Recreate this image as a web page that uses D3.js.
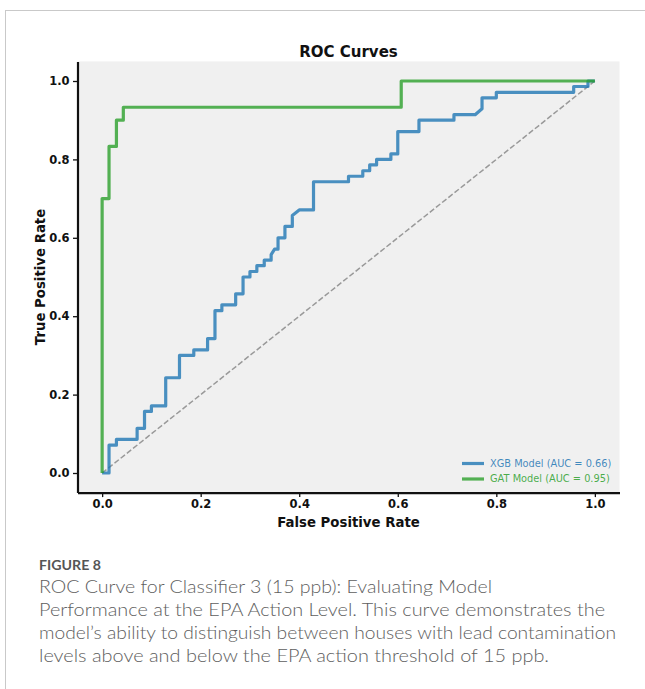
<!DOCTYPE html>
<html>
<head>
<meta charset="utf-8">
<script src="https://cdn.jsdelivr.net/npm/d3@7"></script>
<style>
  body { margin: 0; background: #fff; }
  svg { display: block; }
</style>
</head>
<body>
<div id="container"></div>
<script>
// ROC points (false positive rate / true positive rate)
const xgbFpr = [0, 0.014, 0.014, 0.029, 0.029, 0.071, 0.071, 0.086, 0.086, 0.100, 0.100, 0.129, 0.129, 0.157, 0.157,
    0.186, 0.186, 0.214, 0.214, 0.229, 0.229, 0.243, 0.243, 0.271, 0.271, 0.286, 0.286, 0.300, 0.300, 0.314, 0.314,
    0.329, 0.329, 0.343, 0.343, 0.350, 0.357, 0.357, 0.371, 0.371, 0.386, 0.386, 0.400, 0.429, 0.429, 0.500, 0.500,
    0.529, 0.529, 0.543, 0.543, 0.557, 0.557, 0.586, 0.586, 0.600, 0.600, 0.643, 0.643, 0.714, 0.714, 0.757, 0.771,
    0.771, 0.800, 0.800, 0.957, 0.957, 0.986, 0.986, 1.0];
const xgbTpr = [0, 0, 0.071, 0.071, 0.086, 0.086, 0.114, 0.114, 0.157, 0.157, 0.171, 0.171, 0.243, 0.243, 0.300,
    0.300, 0.314, 0.314, 0.343, 0.343, 0.414, 0.414, 0.429, 0.429, 0.457, 0.457, 0.500, 0.500, 0.514, 0.514, 0.529,
    0.529, 0.543, 0.543, 0.557, 0.571, 0.571, 0.600, 0.600, 0.629, 0.629, 0.657, 0.671, 0.671, 0.743, 0.743, 0.757,
    0.757, 0.771, 0.771, 0.786, 0.786, 0.800, 0.800, 0.814, 0.814, 0.871, 0.871, 0.900, 0.900, 0.914, 0.914, 0.929,
    0.957, 0.957, 0.971, 0.971, 0.986, 0.986, 1.0, 1.0];
const gatFpr = [0, 0, 0.014, 0.014, 0.029, 0.029, 0.043, 0.043, 0.607, 0.607, 1.0];
const gatTpr = [0, 0.700, 0.700, 0.833, 0.833, 0.900, 0.900, 0.933, 0.933, 1.0, 1.0];
const chanceLine = [0, 1];

const xTicks = [0, 0.2, 0.4, 0.6, 0.8, 1.0];
const yTicks = [0, 0.2, 0.4, 0.6, 0.8, 1.0];
const seriesNames = ['XGB Model (AUC = 0.66)', 'GAT Model (AUC = 0.95)'];
const seriesColors = ['#1f77b4', '#2ca02c'];

const chartTitle = 'ROC Curves';
const xLabel = 'False Positive Rate';
const yLabel = 'True Positive Rate';
const figureLabel = 'FIGURE 8';
const captionLines = [
    'ROC Curve for Classifier 3 (15 ppb): Evaluating Model',
    'Performance at the EPA Action Level. This curve demonstrates the',
    'model\u2019s ability to distinguish between houses with lead contamination',
    'levels above and below the EPA action threshold of 15 ppb.'
];

const width = 645;
const height = 689;
const plot = { left: 77.5, right: 619.5, top: 61.4, bottom: 492.6 };
const chartFont = '"DejaVu Sans", sans-serif';

const svg = d3.select('#container').append('svg')
    .attr('width', width)
    .attr('height', height);

// page frame (thin gray rules top and left)
svg.append('line')
    .attr('x1', 5).attr('x2', width).attr('y1', 10.5).attr('y2', 10.5)
    .attr('stroke', '#c9c9c9').attr('stroke-width', 1);
svg.append('line')
    .attr('x1', 5.5).attr('x2', 5.5).attr('y1', 10).attr('y2', height)
    .attr('stroke', '#c9c9c9').attr('stroke-width', 1);

const x = d3.scaleLinear().domain([-0.05, 1.05]).range([plot.left, plot.right]);
const y = d3.scaleLinear().domain([-0.05, 1.05]).range([plot.bottom, plot.top]);

// plot background
svg.append('rect')
    .attr('x', plot.left).attr('y', plot.top)
    .attr('width', plot.right - plot.left).attr('height', plot.bottom - plot.top)
    .attr('fill', '#f0f0f0');

const line = d3.line().x(d => x(d[0])).y(d => y(d[1]));

// chance diagonal
svg.append('path')
    .attr('d', line(chanceLine.map(v => [v, v])))
    .attr('fill', 'none')
    .attr('stroke', '#999')
    .attr('stroke-width', 1.5)
    .attr('stroke-dasharray', '5.5,2.4');

const series = [
    { name: seriesNames[0], color: seriesColors[0], pts: d3.zip(xgbFpr, xgbTpr) },
    { name: seriesNames[1], color: seriesColors[1], pts: d3.zip(gatFpr, gatTpr) }
];

svg.append('g')
    .selectAll('path')
    .data(series)
    .enter().append('path')
    .attr('d', d => line(d.pts))
    .attr('fill', 'none')
    .attr('stroke', d => d.color)
    .attr('stroke-opacity', 0.8)
    .attr('stroke-width', 3.2)
    .attr('stroke-linejoin', 'round');

// axes
const fmt = d3.format('.1f');
const xAxis = svg.append('g')
    .attr('transform', `translate(0,${plot.bottom})`)
    .call(d3.axisBottom(x).tickValues(xTicks).tickFormat(fmt).tickSize(4.5).tickSizeOuter(0).tickPadding(3));
const yAxis = svg.append('g')
    .attr('transform', `translate(${plot.left},0)`)
    .call(d3.axisLeft(y).tickValues(yTicks).tickFormat(fmt).tickSize(4.5).tickSizeOuter(0).tickPadding(3.5));

[xAxis, yAxis].forEach(g => {
    g.select('.domain').attr('stroke', '#111').attr('stroke-width', 2.2);
    g.selectAll('.tick line').attr('stroke', '#111').attr('stroke-width', 1.3);
    g.selectAll('.tick text')
        .attr('fill', '#111')
        .style('font-family', chartFont)
        .style('font-weight', 'bold')
        .style('font-size', '11.5px');
});

// title and axis labels
const midX = (plot.left + plot.right) / 2;
svg.append('text')
    .attr('x', midX).attr('y', 57)
    .attr('text-anchor', 'middle')
    .style('font-family', chartFont).style('font-weight', 'bold').style('font-size', '15px')
    .attr('fill', '#111')
    .text(chartTitle);

svg.append('text')
    .attr('x', midX).attr('y', 527)
    .attr('text-anchor', 'middle')
    .style('font-family', chartFont).style('font-weight', 'bold').style('font-size', '13.3px')
    .attr('fill', '#111')
    .text(xLabel);

svg.append('text')
    .attr('transform', `translate(45,${(plot.top + plot.bottom) / 2}) rotate(-90)`)
    .attr('text-anchor', 'middle')
    .style('font-family', chartFont).style('font-weight', 'bold').style('font-size', '13.3px')
    .attr('fill', '#111')
    .text(yLabel);

// legend (no frame), lower right
const legend = svg.append('g').attr('transform', 'translate(462,463.5)');
const items = legend.selectAll('g')
    .data(series)
    .enter().append('g')
    .attr('transform', (d, i) => `translate(0,${i * 15.5})`);
items.append('line')
    .attr('x1', 0).attr('x2', 22)
    .attr('stroke', d => d.color).attr('stroke-opacity', 0.8)
    .attr('stroke-width', 3.2);
items.append('text')
    .attr('x', 28).attr('dy', '0.35em')
    .attr('fill', d => d.color).attr('fill-opacity', 0.85)
    .style('font-family', chartFont).style('font-size', '9.8px')
    .text(d => d.name);

// caption below the chart
svg.append('text')
    .attr('x', 39).attr('y', 570)
    .attr('fill', '#555')
    .style('font-family', 'Lato, "Open Sans", sans-serif')
    .style('font-weight', 'bold')
    .style('font-size', '14px')
    .attr('textLength', 62).attr('lengthAdjust', 'spacingAndGlyphs')
    .text(figureLabel);

const captionWidths = [453, 566, 577, 510];
svg.append('g')
    .selectAll('text')
    .data(captionLines)
    .enter().append('text')
    .attr('x', 39)
    .attr('y', (d, i) => 592.5 + i * 23)
    .attr('fill', '#5e5e5e')
    .style('font-family', 'Lato, "Open Sans", sans-serif')
    .style('font-weight', 300)
    .style('font-size', '18px')
    .attr('textLength', (d, i) => captionWidths[i])
    .attr('lengthAdjust', 'spacingAndGlyphs')
    .text(d => d);
</script>
</body>
</html>
